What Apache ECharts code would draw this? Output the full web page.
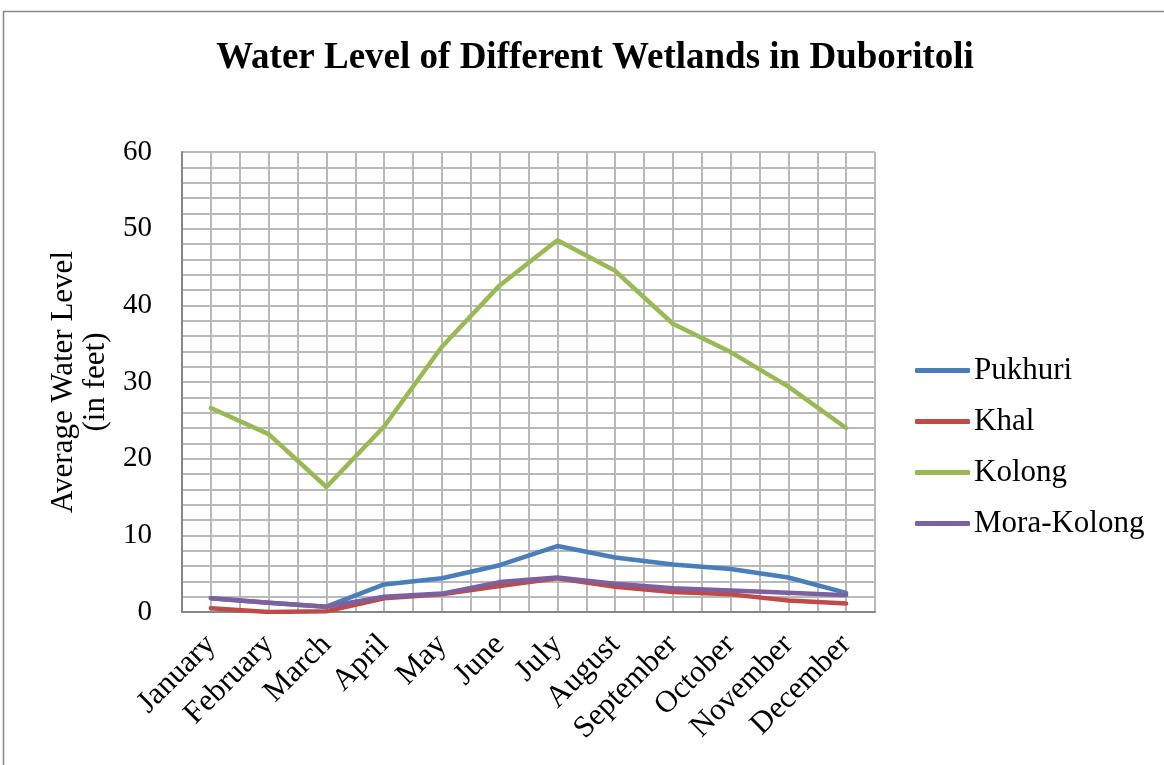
<!DOCTYPE html>
<html>
<head>
<meta charset="utf-8">
<script src="https://cdn.jsdelivr.net/npm/echarts@6/dist/echarts.min.js"></script>
<style>
  html, body { margin: 0; padding: 0; background: #fff; }
  #chart { width: 1164px; height: 765px; }
</style>
</head>
<body>
<div id="chart"></div>
<script>
// Monthly average water level (feet) for the wetlands of Duboritoli
const months = ['January', 'February', 'March', 'April', 'May', 'June',
  'July', 'August', 'September', 'October', 'November', 'December'];
const pukhuri   = [1.8, 1.2, 0.7, 3.6, 4.4, 6.1, 8.6, 7.1, 6.2, 5.6, 4.5, 2.5];
const khal      = [0.5, 0.0, 0.1, 1.8, 2.3, 3.4, 4.4, 3.3, 2.6, 2.3, 1.5, 1.1];
const kolong    = [26.6, 23.2, 16.3, 24.2, 34.6, 42.6, 48.5, 44.5, 37.6, 33.9, 29.4, 24.0];
const moraKolong = [1.8, 1.2, 0.7, 2.0, 2.4, 3.9, 4.5, 3.7, 3.1, 2.8, 2.5, 2.2];
const yTicks = [0, 10, 20, 30, 40, 50, 60];

const FONT = '"Liberation Serif", "Times New Roman", serif';
const GRID_COLOR = '#b9b9b9';
const AXIS_COLOR = '#868686';

const chart = echarts.init(document.getElementById('chart'));

function lineSeries(name, data, color) {
  return {
    name: name,
    type: 'line',
    data: data,
    xAxisIndex: 0,
    yAxisIndex: 0,
    symbol: 'none',
    lineStyle: { color: color, width: 4.5, cap: 'round', join: 'round' },
    itemStyle: { color: color },
    z: 5
  };
}

chart.setOption({
  animation: false,
  backgroundColor: '#fff',
  textStyle: { fontFamily: FONT },
  graphic: [{
    type: 'rect',
    shape: { x: 3.5, y: 11.5, width: 1300, height: 900 },
    style: { fill: 'none', stroke: AXIS_COLOR, lineWidth: 1.5 },
    silent: true
  }],
  title: {
    text: 'Water Level of Different Wetlands in Duboritoli',
    left: 590,
    textAlign: 'center',
    top: 35,
    textStyle: { fontFamily: FONT, fontSize: 37, fontWeight: 'bold', color: '#000' }
  },
  legend: {
    orient: 'vertical',
    left: 910,
    top: 350,
    itemWidth: 55,
    itemHeight: 5,
    itemGap: 20,
    icon: 'roundRect',
    textStyle: { fontFamily: FONT, fontSize: 31, color: '#000', padding: [0, 0, 0, -1] },
    data: ['Pukhuri', 'Khal', 'Kolong', 'Mora-Kolong']
  },
  grid: { left: 182, top: 152, right: 289, bottom: 153, containLabel: false },
  xAxis: [{
    type: 'category',
    data: months,
    boundaryGap: true,
    axisLine: { show: true, lineStyle: { color: AXIS_COLOR, width: 2 } },
    axisTick: { show: false },
    splitLine: { show: false },
    axisLabel: {
      rotate: 45,
      interval: 0,
      margin: 28,
      fontFamily: FONT,
      fontSize: 31,
      color: '#000'
    },
    z: 3
  }, {
    // half-category grid lines (boundaries and centres)
    type: 'value',
    min: 0,
    max: 24,
    interval: 1,
    position: 'bottom',
    axisLine: { show: false },
    axisTick: { show: false },
    axisLabel: { show: false },
    splitLine: { show: true, lineStyle: { color: GRID_COLOR, width: 2 } }
  }],
  yAxis: {
    type: 'value',
    min: yTicks[0],
    max: yTicks[yTicks.length - 1],
    interval: 10,
    name: 'Average Water Level\n(in feet)',
    nameLocation: 'middle',
    nameGap: 68,
    nameRotate: 90,
    nameTextStyle: { fontFamily: FONT, fontSize: 31, color: '#000', lineHeight: 32 },
    axisLine: { show: true, lineStyle: { color: AXIS_COLOR, width: 2 } },
    axisTick: { show: false },
    axisLabel: { margin: 30, fontFamily: FONT, fontSize: 29, color: '#000' },
    splitLine: { show: true, lineStyle: { color: GRID_COLOR, width: 2 } },
    minorTick: { show: false, splitNumber: 5 },
    minorSplitLine: { show: true, lineStyle: { color: GRID_COLOR, width: 2 } },
    z: 3
  },
  series: [
    lineSeries('Pukhuri', pukhuri, '#4a7ebb'),
    lineSeries('Khal', khal, '#be4b48'),
    lineSeries('Kolong', kolong, '#98b954'),
    lineSeries('Mora-Kolong', moraKolong, '#7d60a0')
  ]
});
</script>
</body>
</html>
